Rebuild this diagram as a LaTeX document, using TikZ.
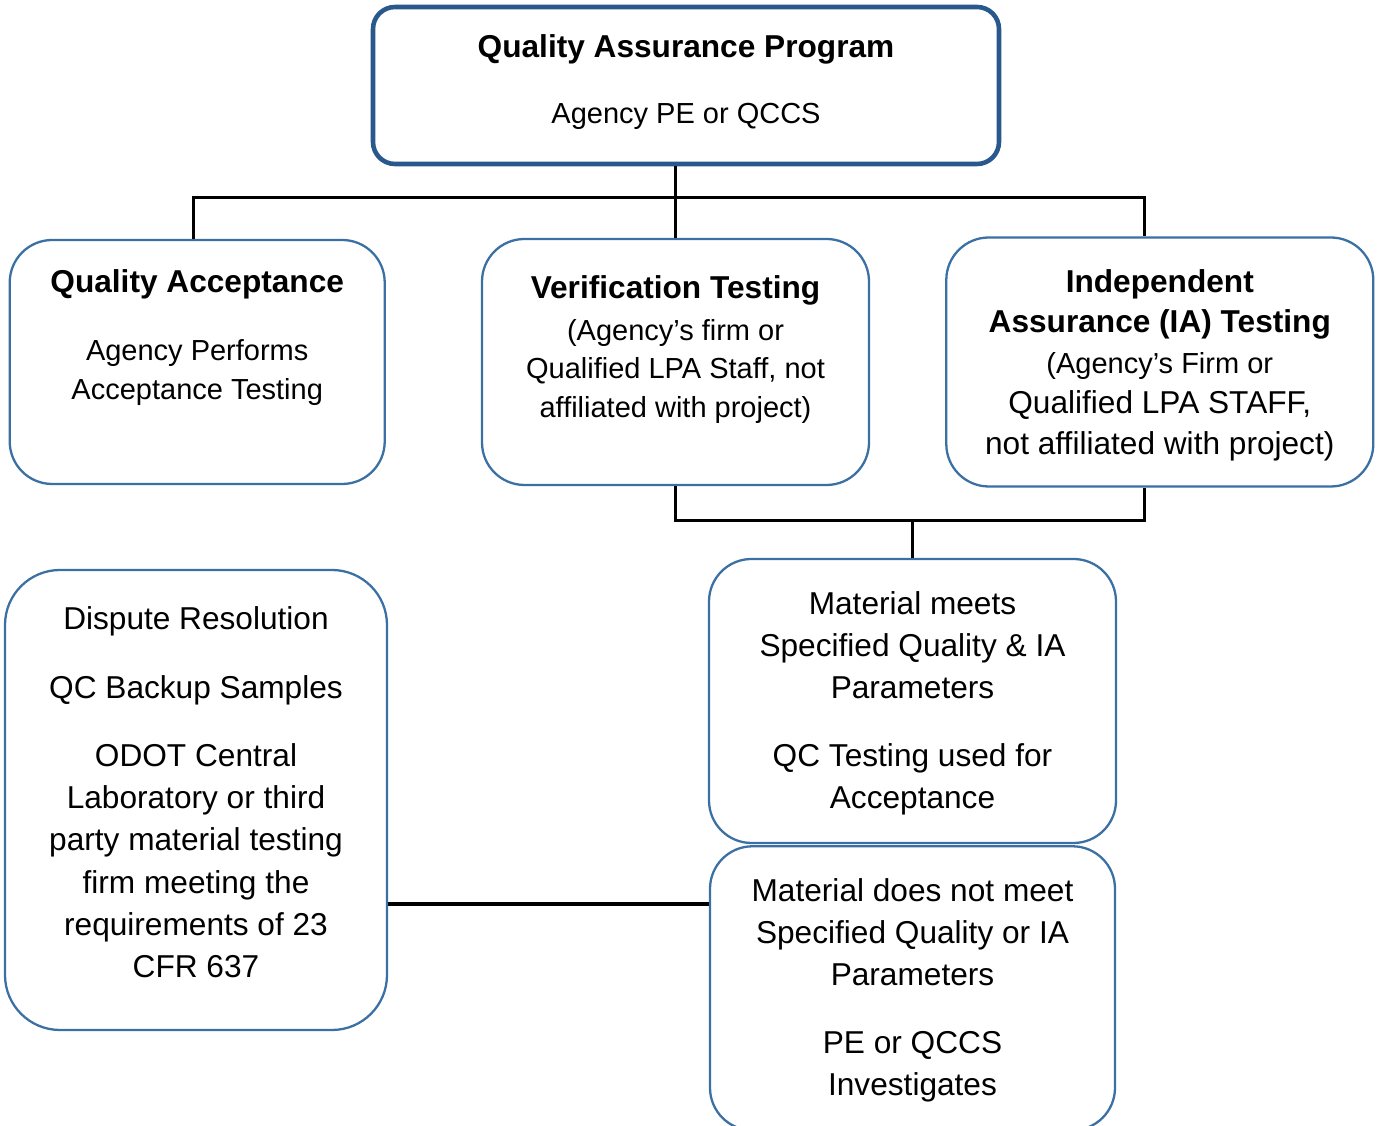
\documentclass[tikz,border=0pt]{standalone}
\usepackage{fontspec}
\setmainfont{Liberation Sans}
\usetikzlibrary{positioning,calc}
\definecolor{qaNavy}{RGB}{40,88,140}
\definecolor{qaBlue}{RGB}{58,112,163}
\newcommand{\qahead}{\fontsize{18}{24}\selectfont\bfseries}
\newcommand{\qabody}{\fontsize{16.5}{22}\selectfont\mdseries}
\newcommand{\qatext}{\fontsize{18}{24}\selectfont}
\tikzset{
  qatop/.style={
    draw=qaNavy,
    line width=2.6pt,
    rounded corners=0.44cm,
    inner sep=0pt,
    fill=white
  },
  qabox/.style={
    draw=qaBlue,
    line width=1.3pt,
    rounded corners=0.85cm,
    inner sep=0pt,
    fill=white
  },
  qalink/.style={
    draw=black,
    line width=1.8pt
  }
}

\begin{document}
\begin{tikzpicture}
  \useasboundingbox (0,0) rectangle (27.54,22.52);

  \node[qatop] (qap) at (13.72,20.81)
    {\parbox[c][3.14cm][t]{12.52cm}{\centering\vspace*{15.8pt}\qahead Quality Assurance Program\\[15.4pt]\qabody Agency PE or QCCS}};

  \node[qabox] (vt) at (13.51,15.28)
    {\parbox[c][4.92cm][t]{7.74cm}{\centering\vspace*{21.1pt}\qahead Verification Testing\\[1.4pt]\qabody (Agency’s firm or\\Qualified LPA Staff, not\\affiliated with project)}};
  \node[qabox, left=1.9cm of vt] (qa)
    {\parbox[c][4.88cm][t]{7.5cm}{\centering\vspace*{16.6pt}\qahead Quality Acceptance\\[17pt]\qabody Agency Performs\\Acceptance Testing}};
  \node[qabox, right=1.5cm of vt] (ia)
    {\parbox[c][4.98cm][t]{8.54cm}{\centering\vspace*{18.3pt}\fontsize{18}{23}\selectfont\bfseries Independent\\Assurance (IA) Testing\\\mdseries\fontsize{16.5}{23}\selectfont (Agency’s Firm or\\\fontsize{18}{23}\selectfont Qualified LPA STAFF,\\not affiliated with project)}};

  \node[qabox] (meets) at (18.25,8.50)
    {\parbox[c][5.68cm][t]{8.14cm}{\centering\vspace*{18.3pt}\qatext Material meets\\Specified Quality \& IA\\Parameters\\[14.5pt]QC Testing used for\\Acceptance}};
  \node[qabox, below=0.02cm of meets] (fails)
    {\parbox[c][5.68cm][t]{8.10cm}{\centering\vspace*{18.3pt}\qatext Material does not meet\\Specified Quality or IA\\Parameters\\[14.5pt]PE or QCCS\\Investigates}};

  \node[qabox, rounded corners=1.1cm] (dispute) at (3.92,6.52)
    {\parbox[c][9.2cm][t]{7.64cm}{\centering\vspace*{20.6pt}\qatext Dispute Resolution\\[15.7pt]QC Backup Samples\\[14.5pt]ODOT Central\\Laboratory or third\\party material testing\\firm meeting the\\requirements of 23\\CFR 637}};

  \coordinate (topbus) at ($(qap.south)!0.44!(vt.north)$);
  \coordinate (lowbus) at ($(vt.south)!0.48!(meets.north)$);
  \coordinate (disputeout) at ([yshift=-2.08cm]dispute.east);

  \draw[qalink] (qap.south -| vt.north) -- (vt.north);
  \draw[qalink] ([xshift=-0.07cm]qa.north) |- (topbus) -| ([xshift=-0.31cm]ia.north);
  \draw[qalink] (vt.south) |- (lowbus) -| ([xshift=-0.31cm]ia.south);
  \draw[qalink] (lowbus -| meets.north) -- (meets.north);
  \draw[qalink] (disputeout) -- (disputeout -| fails.west);
\end{tikzpicture}
\end{document}
